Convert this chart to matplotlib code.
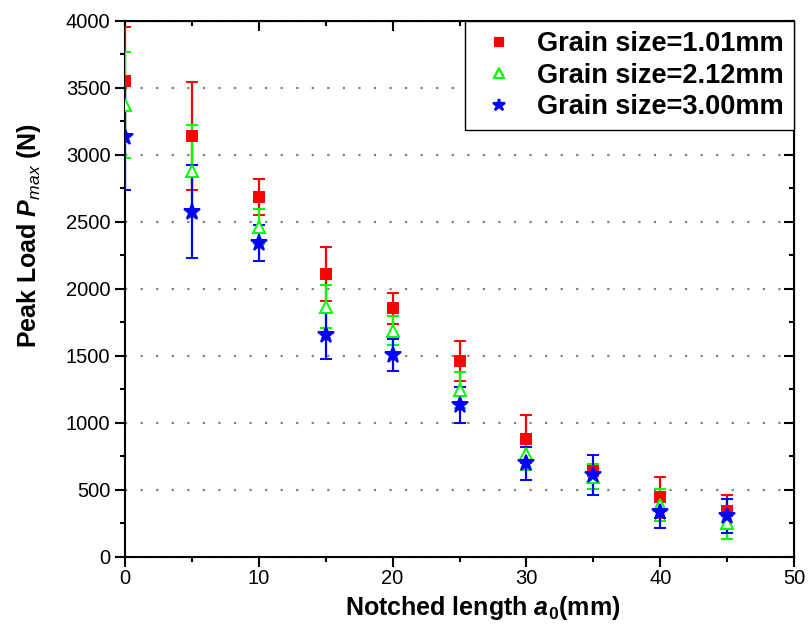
import numpy as np
import matplotlib.pyplot as plt
from matplotlib.ticker import MultipleLocator
from matplotlib.lines import Line2D

plt.rcParams['font.family'] = ['Liberation Sans', 'DejaVu Sans']
plt.rcParams['mathtext.fontset'] = 'custom'
plt.rcParams['mathtext.rm'] = 'Liberation Sans'
plt.rcParams['mathtext.it'] = 'Liberation Sans:italic'
plt.rcParams['mathtext.bf'] = 'Liberation Sans:bold'
plt.rcParams['mathtext.bfit'] = 'Liberation Sans:bold:italic'

# notched length a0 (mm)
notch = [0, 5, 10, 15, 20, 25, 30, 35, 40, 45]

# grain size 1.01 mm
load_101 = [3550, 3142, 2689, 2110, 1855, 1465, 881, 644, 445, 343]
err_101 = [405, 403, 135, 200, 118, 150, 180, 30, 155, 120]

# grain size 2.12 mm
load_212 = [3373, 2881, 2465, 1868, 1690, 1246, 769, 599, 388, 256]
err_212 = [396, 343, 132, 162, 110, 137, 120, 92, 120, 120]

# grain size 3.00 mm
load_300 = [3134, 2575, 2346, 1657, 1507, 1134, 699, 612, 338, 306]
err_300 = [399, 347, 135, 177, 120, 137, 124, 152, 125, 125]

labels = ['Grain size=1.01mm', 'Grain size=2.12mm', 'Grain size=3.00mm']

fig = plt.figure(figsize=(8.08, 6.34), dpi=100)
ax = fig.add_axes([0.1547, 0.1215, 0.828, 0.8454])

ax.set_axisbelow(True)
ax.grid(axis='y', color='#808080', linestyle=(0, (1, 6)), linewidth=1.6)

series = [
    (load_101, err_101, 's', 'red', 'red', 7),
    (load_212, err_212, '^', 'white', '#00ff00', 9),
    (load_300, err_300, '*', 'blue', 'blue', 12),
]
handles = []
for (y, e, m, fc, ec, ms), lab in zip(series, labels):
    ax.errorbar(notch, y, yerr=e, fmt=m, color=ec, mfc=fc, mec=ec, ms=ms,
                mew=1.4, elinewidth=1.6, capsize=4.5, capthick=1.6, zorder=3)
    handles.append(Line2D([], [], ls='none', marker=m, mfc=fc, mec=ec,
                          mew=1.6, ms=ms * 0.75, label=lab))

ax.set_xlim(0, 50)
ax.set_ylim(0, 4000)
ax.xaxis.set_major_locator(MultipleLocator(10))
ax.xaxis.set_minor_locator(MultipleLocator(5))
ax.yaxis.set_major_locator(MultipleLocator(500))
ax.yaxis.set_minor_locator(MultipleLocator(250))

for s in ax.spines.values():
    s.set_linewidth(1.5)
ax.tick_params(which='both', direction='out', width=1.5, labelsize=14.5,
               top=False, right=False)
ax.tick_params(which='major', length=7)
ax.tick_params(which='minor', length=3.5)
ax.tick_params(axis='x', which='major', pad=2)

# inward ticks on top and right
axt = ax.secondary_xaxis('top')
axt.xaxis.set_major_locator(MultipleLocator(10))
axt.xaxis.set_minor_locator(MultipleLocator(5))
axt.tick_params(which='both', direction='in', width=1.5, labeltop=False)
axt.tick_params(which='major', length=7)
axt.tick_params(which='minor', length=3.5)
axr = ax.secondary_yaxis('right')
axr.yaxis.set_major_locator(MultipleLocator(500))
axr.yaxis.set_minor_locator(MultipleLocator(250))
axr.tick_params(which='both', direction='in', width=1.5, labelright=False)
axr.tick_params(which='major', length=7)
axr.tick_params(which='minor', length=3.5)

ax.set_xlabel(r'Notched length $\mathbfit{a}_{\mathbf{0}}$(mm)', fontsize=18, fontweight='bold')
ax.set_ylabel(r'Peak Load $\mathbfit{P}_{\mathit{max}}$ (N)', fontsize=18, fontweight='bold')
ax.xaxis.set_label_coords(0.535, -0.07)
ax.yaxis.set_label_coords(-0.123, 0.6)

leg = ax.legend(handles=handles, loc='upper right', borderaxespad=0, fancybox=False,
                edgecolor='black', framealpha=1, prop={'weight': 'bold', 'size': 19.5},
                handletextpad=0.5, borderpad=0.38, labelspacing=0.2, handlelength=1.8)
leg.get_frame().set_linewidth(1.0)

fig.savefig('out.png', dpi=100)
